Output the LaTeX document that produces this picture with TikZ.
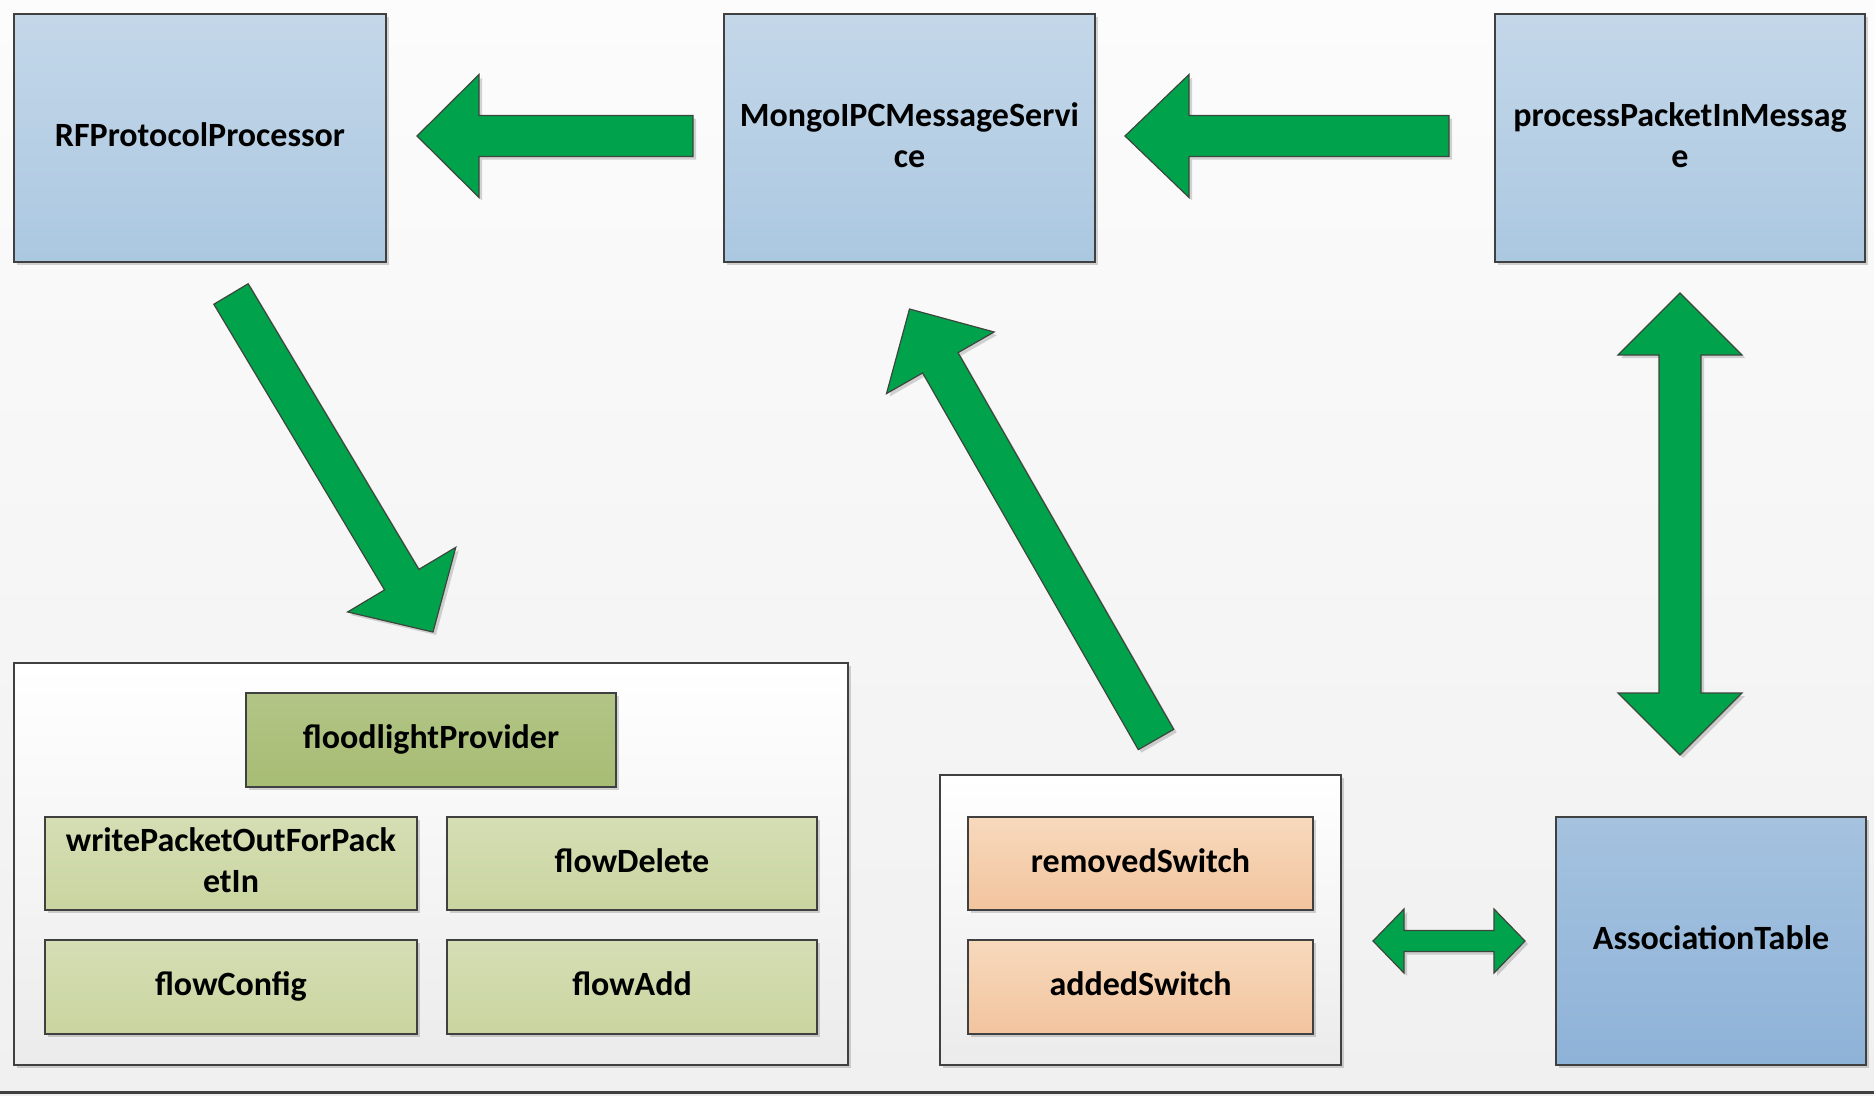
\documentclass[tikz,border=0pt]{standalone}
\usepackage{fontspec}
\setmainfont{Carlito}
\usetikzlibrary{calc,shadows}

\definecolor{bgtop}{RGB}{252,252,252}
\definecolor{bgbot}{RGB}{240,240,240}
\definecolor{edge}{RGB}{64,64,64}
\definecolor{bluetop}{RGB}{196,215,233}
\definecolor{bluebot}{RGB}{171,200,225}
\definecolor{deeptop}{RGB}{165,194,223}
\definecolor{deepbot}{RGB}{142,179,216}
\definecolor{olivetop}{RGB}{178,197,134}
\definecolor{olivebot}{RGB}{167,188,116}
\definecolor{sagetop}{RGB}{213,222,180}
\definecolor{sagebot}{RGB}{201,213,160}
\definecolor{peachtop}{RGB}{247,217,188}
\definecolor{peachbot}{RGB}{242,196,158}
\definecolor{arrowgreen}{RGB}{0,163,75}
\definecolor{arrowedge}{RGB}{60,70,60}

\newcommand\labelfont{\bfseries\fontsize{34}{41}\selectfont}

\tikzset{
  softshadow/.style={drop shadow={shadow xshift=3pt, shadow yshift=-3pt,
      opacity=0.16, fill=black}},
  box/.style={draw=edge, line width=2pt, anchor=north west, align=center,
    inner sep=4pt, text depth=6pt, font=\labelfont, softshadow},
  bluebox/.style={box, top color=bluetop, bottom color=bluebot},
  deepbox/.style={box, top color=deeptop, bottom color=deepbot},
  olivebox/.style={box, top color=olivetop, bottom color=olivebot},
  sagebox/.style={box, top color=sagetop, bottom color=sagebot},
  peachbox/.style={box, top color=peachtop, bottom color=peachbot},
  groupbox/.style={box, top color=white, bottom color=bgbot!98!black},
  blockarrow/.style={fill=arrowgreen, draw=arrowedge, line width=1.2pt,
    line join=miter, softshadow},
}

% block arrow: tail, tip, shaft half width, head half width, head length
\newcommand\blockarrow[5]{%
  \coordinate (ba-h) at ($(#2)!#5!(#1)$);
  \draw[blockarrow] ($(#1)!#3!90:(#2)$) -- ($(ba-h)!#3!-90:(#1)$)
    -- ($(ba-h)!#4!-90:(#1)$) -- (#2) -- ($(ba-h)!#4!90:(#1)$)
    -- ($(ba-h)!#3!90:(#1)$) -- ($(#1)!#3!-90:(#2)$) -- cycle;
}
% two-headed block arrow: end, end, shaft half width, head half width, head length
\newcommand\dblarrow[5]{%
  \coordinate (da-a) at ($(#1)!#5!(#2)$);
  \coordinate (da-b) at ($(#2)!#5!(#1)$);
  \draw[blockarrow] (#1) -- ($(da-a)!#4!90:(#2)$) -- ($(da-a)!#3!90:(#2)$)
    -- ($(da-b)!#3!-90:(#1)$) -- ($(da-b)!#4!-90:(#1)$) -- (#2)
    -- ($(da-b)!#4!90:(#1)$) -- ($(da-b)!#3!90:(#1)$)
    -- ($(da-a)!#3!-90:(#2)$) -- ($(da-a)!#4!-90:(#2)$) -- cycle;
}

\begin{document}
\begin{tikzpicture}[x=1pt, y=-1pt]
  % canvas
  \useasboundingbox (0,0) rectangle (1874,1095);
  \fill[top color=bgtop, bottom color=bgbot] (0,0) rectangle (1874,1095);
  \draw[edge, line width=3pt] (0,1092.5) -- (1874,1092.5);

  % upper row
  \node[bluebox, minimum width=372pt, minimum height=248pt] (rf) at (13,13)
    {RFProtocolProcessor};
  \node[bluebox, minimum width=371pt, minimum height=248pt] (mongo) at (723,13)
    {MongoIPCMessageServi\\ce};
  \node[bluebox, minimum width=370pt, minimum height=248pt] (ppm) at (1494,13)
    {processPacketInMessag\\e};

  % floodlight group
  \node[groupbox, minimum width=834pt, minimum height=402pt] (flgroup) at (13,662) {};
  \node[olivebox, minimum width=370pt, minimum height=94pt] (flp) at (245,692)
    {floodlightProvider};
  \node[sagebox, minimum width=372pt, minimum height=93pt] (wpo) at (44,816)
    {writePacketOutForPack\\etIn};
  \node[sagebox, minimum width=370pt, minimum height=93pt] (fdel) at (446,816)
    {flowDelete};
  \node[sagebox, minimum width=372pt, minimum height=94pt] (fcfg) at (44,939)
    {flowConfig};
  \node[sagebox, minimum width=370pt, minimum height=94pt] (fadd) at (446,939)
    {flowAdd};

  % switch group
  \node[groupbox, minimum width=401pt, minimum height=290pt] (swgroup) at (939,774) {};
  \node[peachbox, minimum width=345pt, minimum height=93pt] (rem) at (967,816)
    {removedSwitch};
  \node[peachbox, minimum width=345pt, minimum height=94pt] (added) at (967,939)
    {addedSwitch};

  \node[deepbox, minimum width=310pt, minimum height=248pt] (assoc) at (1555,816)
    {AssociationTable};

  % connector end points
  \coordinate (a1t) at ($(mongo.west)+(-30,-2)$);
  \coordinate (a1h) at ($(rf.east)+(30,-2)$);
  \coordinate (a2t) at ($(ppm.west)+(-45,-2)$);
  \coordinate (a2h) at ($(mongo.east)+(29,-2)$);
  \coordinate (a3t) at ($(rf.south)+(31,31)$);
  \coordinate (a3h) at ($(flgroup.north west)+(420,-30)$);
  \coordinate (a4t) at ($(swgroup.north)+(15.5,-34.5)$);
  \coordinate (a4h) at ($(mongo.south)+(0,46)$);
  \coordinate (a5a) at ($(ppm.south)+(0,30)$);
  \coordinate (a5b) at ($(ppm.south |- assoc.north)+(0,-61)$);
  \coordinate (a6a) at ($(swgroup.east |- assoc.west)+(31,0)$);
  \coordinate (a6b) at ($(assoc.west)+(-30,0)$);

  % connectors
  \blockarrow{a1t}{a1h}{20.5pt}{61.5pt}{62pt}
  \blockarrow{a2t}{a2h}{20.5pt}{61.5pt}{64pt}
  \blockarrow{a3t}{a3h}{20pt}{63pt}{61pt}
  \blockarrow{a4t}{a4h}{20.4pt}{62pt}{62pt}
  \dblarrow{a5a}{a5b}{21pt}{62pt}{62pt}
  \dblarrow{a6a}{a6b}{10.5pt}{32pt}{31pt}
\end{tikzpicture}
\end{document}
